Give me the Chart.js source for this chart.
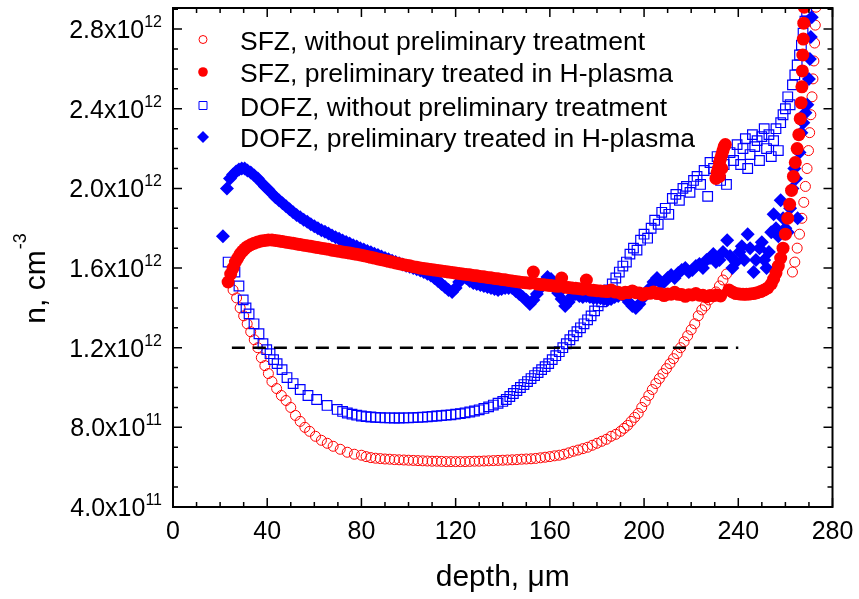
<!DOCTYPE html>
<html>
<head>
<meta charset="utf-8">
<script src="https://cdn.jsdelivr.net/npm/chart.js@4"></script>
<style>
  body { margin: 0; background: #fff; }
  canvas { display: block; }
</style>
</head>
<body>
<canvas id="chart" width="859" height="599"></canvas>
<script>
// n values are in units of 1e12 cm^-3, depth in um

// SFZ, without preliminary treatment (open circles)
const sfzDepth = [25.5, 27, 28.5, 30, 31.5, 33, 34.5, 36, 37.5, 39, 40.5, 42, 44, 46, 48, 50, 52, 54, 56, 58,
  60.5, 63, 65.5, 68, 71, 74, 77, 80, 82, 84, 86, 88, 90, 92, 94, 96, 98, 100, 102, 104,
  106, 108, 110, 112, 114, 116, 118, 120, 122, 124, 126, 128, 130, 132, 134, 136, 138, 140, 142, 144,
  146, 148, 150, 152, 154, 156, 158, 160, 162, 164, 166, 168, 170, 172, 174, 176, 178, 180, 182, 184,
  186, 188, 190, 191.5, 193, 194.5, 196, 197.5, 199, 200.5, 202, 203.5, 205, 206.5, 208, 209.5, 211, 212.5, 214, 215.5,
  217, 218.5, 220, 221.5, 223, 224.5, 226, 227.5, 229, 230.5, 232, 233.5, 235,
  263, 264, 265, 266, 267, 267.8, 268.5, 269.2, 269.8, 270.3, 270.8, 271.3, 271.7, 272.1, 272.4, 272.7, 273, 273.2];
const sfzN = [1.49, 1.45, 1.40, 1.36, 1.32, 1.28, 1.24, 1.20, 1.15, 1.11, 1.07, 1.03, 0.995, 0.96, 0.935, 0.90, 0.86, 0.83, 0.80, 0.78,
  0.755, 0.735, 0.72, 0.705, 0.69, 0.675, 0.665, 0.66, 0.653, 0.648, 0.645, 0.643, 0.641, 0.64, 0.638, 0.637, 0.636, 0.635, 0.634, 0.633,
  0.632, 0.631, 0.63, 0.63, 0.629, 0.628, 0.628, 0.628, 0.628, 0.628, 0.629, 0.63, 0.63, 0.631, 0.632, 0.633, 0.634, 0.635, 0.636, 0.637,
  0.638, 0.64, 0.641, 0.642, 0.644, 0.647, 0.65, 0.653, 0.657, 0.66, 0.665, 0.672, 0.68, 0.686, 0.693, 0.70, 0.71, 0.72, 0.73, 0.74,
  0.755, 0.765, 0.78, 0.795, 0.81, 0.83, 0.85, 0.87, 0.90, 0.93, 0.96, 0.99, 1.02, 1.045, 1.07, 1.095, 1.12, 1.145, 1.17, 1.20,
  1.23, 1.26, 1.29, 1.32, 1.36, 1.39, 1.41, 1.44, 1.46, 1.48, 1.51, 1.54, 1.57,
  1.58, 1.63, 1.70, 1.77, 1.85, 1.93, 2.01, 2.10, 2.19, 2.28, 2.37, 2.46, 2.55, 2.64, 2.73, 2.82, 2.91, 2.97];

// SFZ, preliminary treated in H-plasma (filled circles)
const sfzHDepth = [23.4, 24.5, 25.5, 26.5, 27.5, 28.5, 29.5, 30.5, 31.5, 33, 34.5, 36, 37.5, 39, 40.5,
  42, 43.5, 45, 46.5, 48, 49.5, 51, 52.5, 54, 55.5, 57, 58.5, 60, 61.5, 63, 64.5, 66, 67.5, 69, 70.5,
  72, 73.5, 75, 76.5, 78, 79.5, 81, 82.5, 84, 85.5, 87, 88.5, 90, 91.5, 93, 94.5, 96, 97.5, 99, 100.5,
  102, 103.5, 105, 106.5, 108, 109.5, 111, 112.5, 114, 115.5, 117, 118.5, 120, 121.5, 123, 124.5, 126, 127.5, 129, 130.5,
  132, 133.5, 135, 136.5, 138, 139.5, 141, 142.5, 144, 145.5, 147, 148.5, 150, 151.5, 153, 154.5, 156, 157.5, 159, 160.5,
  162, 163.5, 165, 166.5, 168, 169.5, 171, 172.5, 174, 175.5, 177, 178.5, 180, 181.5, 183, 184.5, 186, 187.5, 189, 190.5,
  192, 193.5, 195, 196.5, 198, 199.5, 201, 202.5, 204, 205.5, 207, 208.5, 210, 211.5, 213, 214.5, 216, 217.5, 219, 220.5,
  222, 223.5, 225, 226.5, 228, 229.5, 231, 232.5,
  230.5, 231, 231.5, 232, 232.5, 233, 233.5, 234, 234.5, 233, 232,
  236, 237.5, 239, 240.5, 242, 243.5, 245, 246.5, 248, 249.5, 251, 252.5, 254, 255, 256, 257, 258, 259, 260, 261,
  261.8, 262.6, 263.4, 264.2, 265, 265.7, 266.3, 266.7, 267, 267.2, 267.4, 267.6, 267.8, 268, 268.2];
const sfzHN = [1.53, 1.57, 1.60, 1.63, 1.65, 1.67, 1.685, 1.697, 1.707, 1.717, 1.725, 1.731, 1.736, 1.739, 1.741,
  1.741, 1.739, 1.736, 1.733, 1.730, 1.727, 1.724, 1.721, 1.718, 1.715, 1.712, 1.709, 1.706, 1.703, 1.700, 1.697, 1.694, 1.690, 1.687, 1.684,
  1.681, 1.678, 1.675, 1.672, 1.669, 1.666, 1.662, 1.658, 1.654, 1.650, 1.646, 1.642, 1.638, 1.634, 1.630, 1.626, 1.622, 1.618, 1.614, 1.611,
  1.607, 1.604, 1.600, 1.598, 1.595, 1.593, 1.590, 1.588, 1.585, 1.583, 1.580, 1.578, 1.575, 1.573, 1.570, 1.568, 1.566, 1.563, 1.561, 1.558,
  1.556, 1.553, 1.551, 1.548, 1.546, 1.543, 1.541, 1.538, 1.535, 1.533, 1.530, 1.528, 1.526, 1.524, 1.580, 1.520, 1.518, 1.516, 1.514, 1.512,
  1.510, 1.508, 1.550, 1.504, 1.502, 1.500, 1.498, 1.496, 1.494, 1.540, 1.490, 1.488, 1.486, 1.485, 1.483, 1.482, 1.490, 1.480, 1.479, 1.470,
  1.478, 1.477, 1.485, 1.476, 1.475, 1.465, 1.474, 1.473, 1.480, 1.472, 1.471, 1.462, 1.470, 1.469, 1.478, 1.468, 1.467, 1.458, 1.466, 1.465,
  1.472, 1.464, 1.463, 1.455, 1.462, 1.461, 1.465, 1.460,
  2.05, 2.08, 2.10, 2.13, 2.15, 2.17, 2.19, 2.21, 2.22, 2.10, 2.06,
  1.49, 1.48, 1.472, 1.47, 1.468, 1.468, 1.47, 1.472, 1.476, 1.482, 1.49, 1.50, 1.52, 1.545, 1.575, 1.61, 1.65, 1.70, 1.77, 1.85,
  1.92, 1.99, 2.06, 2.13, 2.20, 2.27, 2.35, 2.43, 2.51, 2.59, 2.67, 2.75, 2.83, 2.91, 2.97];

// DOFZ, without preliminary treatment (open squares)
const dofzDepth = [23.4, 26.3, 28, 29.8, 31, 32.3, 34.4, 36.5, 38.2, 39.8, 41.2, 42.7, 44.2, 46.3, 48.4, 51, 54, 57.3, 61, 65.4,
  69.7, 72, 74, 76, 78, 80, 82, 84, 86, 88, 90, 92, 94, 96, 98, 100, 102, 104, 106, 108,
  110, 112, 114, 116, 118, 120, 122, 124, 126, 128, 130, 132, 134, 136, 138,
  140, 141.5, 143, 144.5, 146, 147.5, 149, 150.5, 152, 153.5, 155, 156.5, 158, 159.5, 161, 162.5, 164, 165.5, 167, 168.5,
  170, 171.5, 173, 174.5, 176, 177.5, 179, 180.5, 182, 183.5, 185, 186.5, 188, 189.5, 191, 192.5, 194, 195.5, 197, 198.5,
  200, 201.5, 203, 204.5, 206, 207.5, 209, 210.5, 212, 213.5, 215, 216.5, 218, 219.5, 221, 222.5, 224, 225.5, 227, 228,
  229.5, 231, 232.5, 234, 235, 236.5, 238, 239.5, 241, 242, 243, 244, 245, 246, 247, 248, 249, 250, 251, 252,
  253, 254, 255, 256, 257, 258, 259, 260, 261, 262, 263, 264, 265, 266, 266.8, 267.5, 268.3, 269, 269.8];
const dofzN = [1.63, 1.58, 1.51, 1.44, 1.40, 1.37, 1.32, 1.27, 1.22, 1.19, 1.17, 1.14, 1.12, 1.09, 1.05, 1.02, 0.99, 0.96, 0.94, 0.91,
  0.89, 0.88, 0.872, 0.866, 0.861, 0.857, 0.854, 0.852, 0.85, 0.849, 0.848, 0.848, 0.847, 0.847, 0.848, 0.848, 0.849, 0.85, 0.851, 0.853,
  0.855, 0.857, 0.859, 0.861, 0.863, 0.866, 0.869, 0.873, 0.877, 0.882, 0.888, 0.895, 0.903, 0.912, 0.921,
  0.93, 0.94, 0.955, 0.97, 0.985, 1.00, 1.015, 1.03, 1.045, 1.06, 1.075, 1.09, 1.105, 1.12, 1.14, 1.16, 1.18, 1.20, 1.22, 1.24,
  1.26, 1.28, 1.30, 1.32, 1.34, 1.36, 1.385, 1.41, 1.43, 1.46, 1.49, 1.52, 1.55, 1.58, 1.61, 1.63, 1.67, 1.70, 1.69, 1.74,
  1.77, 1.75, 1.80, 1.84, 1.82, 1.88, 1.90, 1.87, 1.95, 1.97, 1.94, 2.00, 2.01, 1.98, 2.04, 2.06, 2.02, 2.09, 1.96, 2.13,
  2.10, 2.16, 2.04, 2.12, 2.02, 2.18, 2.14, 2.22, 2.12, 2.20, 2.25, 2.10, 2.17, 2.27, 2.21, 2.24, 2.14, 2.26, 2.30, 2.20,
  2.27, 2.16, 2.24, 2.30, 2.19, 2.33, 2.37, 2.40, 2.46, 2.42, 2.52, 2.57, 2.62, 2.67, 2.72, 2.78, 2.84, 2.89, 2.94];

// DOFZ, preliminary treated in H-plasma (filled diamonds)
const dofzHDepth = [21.2, 22.9, 24.2, 25.5, 26.8, 28, 29.2, 30.4, 31.6, 33, 34.5, 36, 37.5, 39, 40.5, 42, 43.5, 45, 46.5, 48,
  49.5, 51, 52.5, 54, 55.5, 57, 58.5, 60, 61.5, 63, 64.5, 66, 67.5, 69, 70.5, 72, 73.5, 75, 76.5, 78,
  79.5, 81, 82.5, 84, 85.5, 87, 88.5, 90, 91.5, 93, 94.5, 96, 97.5, 99, 100.5, 102, 103.5, 105, 106.5, 108,
  109.5, 111, 112.5, 114, 115.5, 117, 118.5, 120, 121.5, 123, 124.5, 126, 127.5, 129, 130.5, 132, 133.5, 135, 136.5, 138,
  139.5, 141, 142.5, 144, 145.5, 147, 148.5, 150, 151.5, 153, 154.5, 156, 157.5, 159, 160.5, 162, 163.5, 165, 166.5, 168,
  169.5, 171, 172.5, 174, 175.5, 177, 178.5, 180, 181.5, 183, 184.5, 186, 187.5, 189, 190.5, 192, 193.5, 195, 196.5, 198,
  199.5, 201, 202.5, 204, 205.5, 207, 208.5, 210, 211.5, 213, 214.5, 216, 217.5, 219, 220.5, 222, 223.5, 225, 226.5, 228,
  229.4, 230.5, 232, 233.5, 235.3, 236.5, 237.5, 239, 240.5, 241.5, 242.5, 244, 245, 246.5, 247.5, 249, 250, 251, 252, 253,
  254, 255, 256, 257, 258, 259, 260, 261, 262, 263, 263.8, 264.5, 265.2, 266, 266.8, 267.6, 268.5, 269.3, 270, 270.4,
  270.8, 271.2, 271.6];
const dofzHN = [1.76, 2.00, 2.05, 2.07, 2.085, 2.095, 2.10, 2.10, 2.09, 2.08, 2.065, 2.05, 2.03, 2.01, 1.995, 1.975, 1.955, 1.94, 1.925, 1.91,
  1.895, 1.88, 1.867, 1.855, 1.843, 1.832, 1.82, 1.81, 1.80, 1.79, 1.782, 1.773, 1.764, 1.755, 1.747, 1.739, 1.731, 1.723, 1.715, 1.708,
  1.700, 1.693, 1.686, 1.679, 1.672, 1.665, 1.658, 1.651, 1.644, 1.637, 1.630, 1.624, 1.618, 1.612, 1.606, 1.600, 1.594, 1.588, 1.580, 1.572,
  1.562, 1.55, 1.535, 1.52, 1.505, 1.49, 1.48, 1.50, 1.53, 1.56, 1.55, 1.535, 1.525, 1.52, 1.515, 1.51, 1.505, 1.50, 1.495, 1.49,
  1.495, 1.50, 1.50, 1.50, 1.485, 1.47, 1.455, 1.44, 1.42, 1.44, 1.47, 1.50, 1.53, 1.555, 1.545, 1.51, 1.475, 1.445, 1.41, 1.43,
  1.46, 1.47, 1.46, 1.455, 1.46, 1.455, 1.45, 1.45, 1.448, 1.445, 1.44, 1.445, 1.455, 1.46, 1.47, 1.455, 1.43, 1.41, 1.40, 1.42,
  1.45, 1.48, 1.50, 1.53, 1.55, 1.525, 1.53, 1.55, 1.565, 1.55, 1.575, 1.59, 1.60, 1.58, 1.59, 1.61, 1.62, 1.60, 1.64, 1.65,
  1.67, 1.63, 1.64, 1.68, 1.74, 1.66, 1.60, 1.63, 1.68, 1.71, 1.64, 1.77, 1.70, 1.58, 1.64, 1.70, 1.73, 1.64, 1.60, 1.68,
  1.78, 1.87, 1.80, 1.76, 1.94, 1.85, 1.80, 1.78, 1.90, 2.00, 2.10, 2.05, 1.85, 2.18, 2.28, 2.33, 2.38, 2.42, 2.55, 2.65,
  2.76, 2.86, 2.95];

// horizontal dashed level
const levelDepth = [25, 240];
const levelN = [1.2, 1.2];

const xTicks = [0, 40, 80, 120, 160, 200, 240, 280];
const yTicks = [0.4, 0.8, 1.2, 1.6, 2.0, 2.4, 2.8];
const yTickMant = ['4.0', '8.0', '1.2', '1.6', '2.0', '2.4', '2.8'];
const yTickExp = ['11', '11', '12', '12', '12', '12', '12'];

const legendLabels = [
  'SFZ, without preliminary treatment',
  'SFZ, preliminary treated in H-plasma',
  'DOFZ, without preliminary treatment',
  'DOFZ, preliminary treated in H-plasma'
];

const FONT = '"Liberation Sans", Arial, sans-serif';
const RED = '#ff0000';
const BLUE = '#0000ff';

function points(xs, ys) {
  return xs.map((v, i) => ({ x: v, y: ys[i] }));
}

function drawMarker(ctx, kind, x, y) {
  ctx.beginPath();
  if (kind === 0) {
    ctx.arc(x, y, 4, 0, Math.PI * 2);
    ctx.strokeStyle = RED; ctx.lineWidth = 1; ctx.stroke();
  } else if (kind === 1) {
    ctx.arc(x, y, 4.8, 0, Math.PI * 2);
    ctx.fillStyle = RED; ctx.fill();
  } else if (kind === 2) {
    ctx.rect(x - 4, y - 4, 8, 8);
    ctx.strokeStyle = BLUE; ctx.lineWidth = 1; ctx.stroke();
  } else {
    ctx.moveTo(x, y - 6); ctx.lineTo(x + 6, y); ctx.lineTo(x, y + 6); ctx.lineTo(x - 6, y);
    ctx.closePath();
    ctx.fillStyle = BLUE; ctx.fill();
  }
}

const decorations = {
  id: 'decorations',
  afterDraw(chart) {
    const { ctx, chartArea: a, scales } = chart;
    const xs = scales.x, ys = scales.y;
    ctx.save();

    // frame
    ctx.strokeStyle = '#000';
    ctx.lineWidth = 2;
    ctx.strokeRect(a.left, a.top, a.right - a.left, a.bottom - a.top);

    // inward ticks on all four sides
    ctx.lineWidth = 1.5;
    ctx.beginPath();
    for (let v = 0; v <= 280; v += 10) {
      const px = xs.getPixelForValue(v);
      const len = v % 40 === 0 ? 9 : 5;
      ctx.moveTo(px, a.bottom); ctx.lineTo(px, a.bottom - len);
      ctx.moveTo(px, a.top); ctx.lineTo(px, a.top + len);
    }
    for (let k = 4; k <= 29; k++) {
      const py = ys.getPixelForValue(k / 10);
      const len = k % 4 === 0 ? 9 : 5;
      ctx.moveTo(a.left, py); ctx.lineTo(a.left + len, py);
      ctx.moveTo(a.right, py); ctx.lineTo(a.right - len, py);
    }
    ctx.stroke();

    ctx.fillStyle = '#000';
    // x tick labels
    ctx.font = '25px ' + FONT;
    ctx.textAlign = 'center';
    ctx.textBaseline = 'alphabetic';
    xTicks.forEach(v => ctx.fillText(String(v), xs.getPixelForValue(v), 539));

    // y tick labels with exponent
    yTicks.forEach((v, i) => {
      const py = ys.getPixelForValue(v);
      ctx.font = '16px ' + FONT;
      ctx.textAlign = 'right';
      ctx.fillText(yTickExp[i], 162, py - 2);
      const ew = ctx.measureText(yTickExp[i]).width;
      ctx.font = '25px ' + FONT;
      ctx.fillText(yTickMant[i] + 'x10', 162 - ew, py + 9);
    });

    // axis titles
    ctx.font = '30px ' + FONT;
    ctx.textAlign = 'center';
    ctx.fillText('depth, \u03bcm', (a.left + a.right) / 2, 586);

    ctx.save();
    ctx.translate(45, 279);
    ctx.rotate(-Math.PI / 2);
    ctx.textAlign = 'left';
    ctx.font = '30px ' + FONT;
    const mainW = ctx.measureText('n, cm').width;
    ctx.font = '18px ' + FONT;
    const supW = ctx.measureText('-3').width;
    const start = -(mainW + supW) / 2;
    ctx.font = '30px ' + FONT;
    ctx.fillText('n, cm', start, 0);
    ctx.font = '18px ' + FONT;
    ctx.fillText('-3', start + mainW + 1, -19);
    ctx.restore();

    // legend
    const rowY = [40, 72.5, 106, 137.5];
    ctx.font = '26.5px ' + FONT;
    ctx.textAlign = 'left';
    legendLabels.forEach((label, i) => {
      drawMarker(ctx, i, 203, rowY[i] - 0.5);
      ctx.fillStyle = '#000';
      ctx.fillText(label, 240, rowY[i] + 9.5);
    });

    ctx.restore();
  }
};

const chartData = {
  datasets: [
    {
      label: 'level',
      data: points(levelDepth, levelN),
      showLine: true,
      borderColor: '#000',
      borderWidth: 2.5,
      borderDash: [13, 8],
      pointRadius: 0,
      order: 0
    },
    {
      label: legendLabels[1],
      data: points(sfzHDepth, sfzHN),
      pointStyle: 'circle',
      pointRadius: 6.5,
      backgroundColor: RED,
      borderColor: RED,
      borderWidth: 0,
      order: 1
    },
    {
      label: legendLabels[3],
      data: points(dofzHDepth, dofzHN),
      pointStyle: 'rectRot',
      pointRadius: 7,
      backgroundColor: BLUE,
      borderColor: BLUE,
      borderWidth: 0,
      order: 2
    },
    {
      label: legendLabels[2],
      data: points(dofzDepth, dofzN),
      pointStyle: 'rect',
      pointRadius: 6.8,
      backgroundColor: 'rgba(0,0,0,0)',
      borderColor: BLUE,
      borderWidth: 1.2,
      order: 3
    },
    {
      label: legendLabels[0],
      data: points(sfzDepth, sfzN),
      pointStyle: 'circle',
      pointRadius: 5,
      backgroundColor: 'rgba(0,0,0,0)',
      borderColor: RED,
      borderWidth: 1,
      order: 4
    }
  ]
};

const config = {
  type: 'scatter',
  data: chartData,
  options: {
    responsive: false,
    animation: false,
    events: [],
    layout: { padding: { left: 173, right: 26.5, top: 7, bottom: 92 } },
    plugins: { legend: { display: false }, tooltip: { enabled: false } },
    scales: {
      x: { type: 'linear', min: 0, max: 280, display: false },
      y: { type: 'linear', min: 0.4, max: 2.906, display: false }
    }
  },
  plugins: [decorations]
};

const myChart = new Chart(document.getElementById('chart'), config);
</script>
</body>
</html>
